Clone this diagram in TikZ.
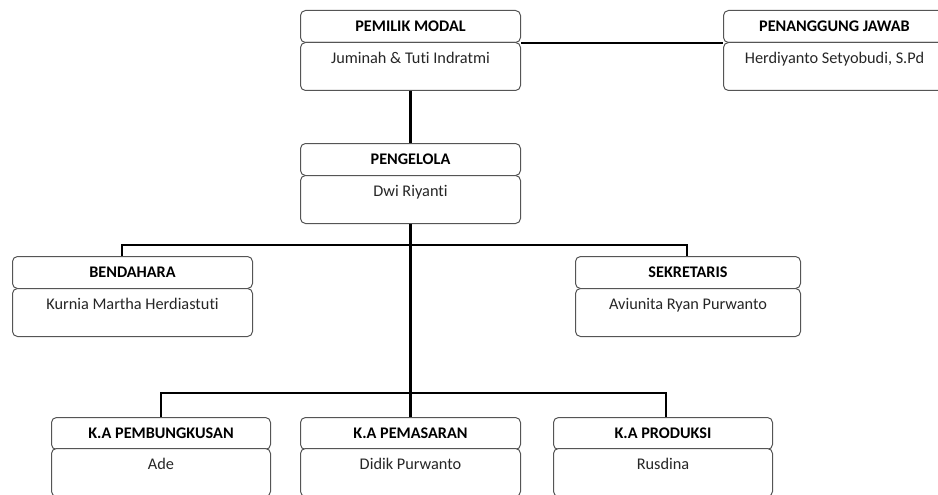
\documentclass[tikz,border=0pt]{standalone}
\usepackage{fontspec}
\setmainfont[Ligatures=NoCommon]{Carlito}
\begin{document}
\begin{tikzpicture}[x=1pt,y=-1pt,
  titlebox/.style={draw=boxgray, line width=1pt, rounded corners=5pt, fill=white,
    minimum height=32pt, inner sep=0pt, anchor=north west, font=\fontsize{16.2}{19}\selectfont\bfseries},
  namebox/.style={draw=boxgray, line width=1pt, rounded corners=5pt, fill=white,
    inner xsep=0pt, inner ysep=5pt, text height=16pt, text depth=22pt,
    anchor=north west, font=\fontsize{16.3}{19}\selectfont, text=black!85},
  conn/.style={line width=2.6pt, black}]
\definecolor{boxgray}{HTML}{555555}
\useasboundingbox (0,0) rectangle (938,495);
\clip (0,0) rectangle (938,495);
% top row
\node[titlebox, minimum width=220pt] (PMt) at (300,10) {PEMILIK MODAL};
\node[namebox, minimum width=220pt] (PMn) at (300,42) {Juminah \& Tuti Indratmi};
\node[titlebox, minimum width=222pt] (PJt) at (723,10) {PENANGGUNG JAWAB};
\node[namebox, minimum width=222pt] (PJn) at (723,42) {Herdiyanto Setyobudi, S.Pd};
% pengelola
\node[titlebox, minimum width=220pt] (PGt) at (300,143) {PENGELOLA};
\node[namebox, minimum width=220pt] (PGn) at (300,175) {Dwi Riyanti};
% middle row
\node[titlebox, minimum width=240pt] (BDt) at (12,256) {BENDAHARA};
\node[namebox, minimum width=240pt] (BDn) at (12,288) {Kurnia Martha Herdiastuti};
\node[titlebox, minimum width=225pt] (SKt) at (575,256) {SEKRETARIS};
\node[namebox, minimum width=225pt] (SKn) at (575,288) {Aviunita Ryan Purwanto};
% bottom row
\node[titlebox, minimum width=219pt] (PBt) at (51,417) {K.A PEMBUNGKUSAN};
\node[namebox, minimum width=219pt] (PBn) at (51,448) {Ade};
\node[titlebox, minimum width=220pt] (PSt) at (300,417) {K.A PEMASARAN};
\node[namebox, minimum width=220pt] (PSn) at (300,448) {Didik Purwanto};
\node[titlebox, minimum width=219pt] (PRt) at (553,417) {K.A PRODUKSI};
\node[namebox, minimum width=219pt] (PRn) at (553,448) {Rusdina};
% connectors
\coordinate (b1) at (122,245);
\coordinate (b2) at (687,245);
\coordinate (c1) at (161,393);
\coordinate (c2) at (666,393);
\draw[conn] (PMt.south east) -- (PJt.south west);
\draw[conn] (PMn.south) -- (PGt.north);
\draw[conn] (PGn.south) -- (PSt.north);
\draw[conn] (b1 |- BDt.north) -- (b1) -- (b2) -- (b2 |- SKt.north);
\draw[conn] (c1 |- PBt.north) -- (c1) -- (c2) -- (c2 |- PRt.north);
\end{tikzpicture}
\end{document}
